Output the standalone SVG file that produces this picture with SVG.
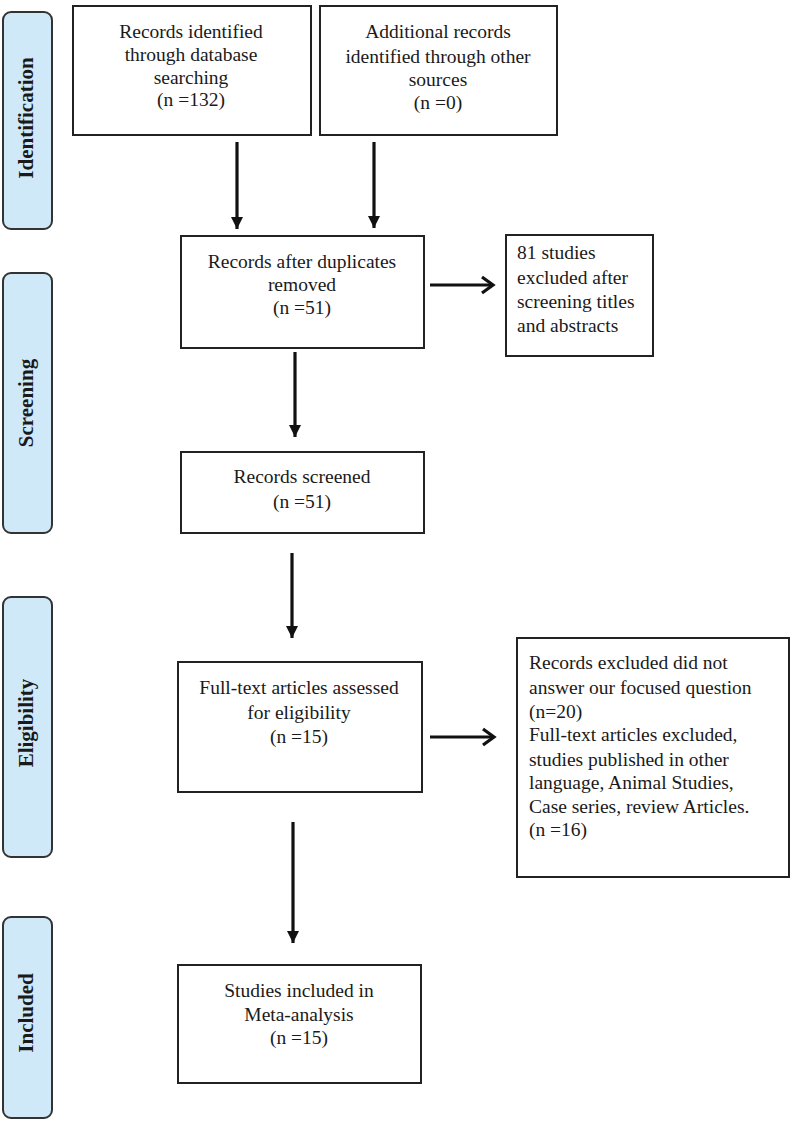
<svg xmlns="http://www.w3.org/2000/svg" width="794" height="1127" viewBox="0 0 794 1127">
<style>
.side{fill:#cfe9f9;stroke:#333;stroke-width:2}
.box{fill:#fff;stroke:#222;stroke-width:2}
.t{font-family:"Liberation Serif","Times New Roman",serif;font-size:19.5px;fill:#1a1a1a}
.c{text-anchor:middle}
.lab{font-family:"Liberation Serif","Times New Roman",serif;font-size:21px;font-weight:bold;fill:#1a1a1a;text-anchor:middle}
.ln{stroke:#111;stroke-width:3.2;fill:none}
.chev{stroke:#111;stroke-width:3.2;fill:none;stroke-linejoin:miter}
</style>
<defs>
<marker id="tri" markerUnits="userSpaceOnUse" markerWidth="14" markerHeight="14" refX="12" refY="7" orient="auto">
<path d="M0,1 L12,7 L0,13 Z" fill="#111"/>
</marker>
</defs>
<rect width="794" height="1127" fill="#fff"/>
<g id="stage-identification">
<rect class="side" x="3" y="12" width="49" height="217" rx="8"/>
<text class="lab" transform="translate(33,118) rotate(-90)">Identification</text>
</g>
<g id="stage-screening">
<rect class="side" x="3" y="273" width="49" height="260" rx="8"/>
<text class="lab" transform="translate(33,403) rotate(-90)">Screening</text>
</g>
<g id="stage-eligibility">
<rect class="side" x="3" y="597" width="49" height="260" rx="8"/>
<text class="lab" transform="translate(33,723) rotate(-90)">Eligibility</text>
</g>
<g id="stage-included">
<rect class="side" x="3" y="917" width="49" height="201" rx="8"/>
<text class="lab" transform="translate(33,1013) rotate(-90)">Included</text>
</g>
<g id="n-database">
<rect class="box" x="73" y="6" width="238" height="129"/>
<text class="t c" x="191" y="38">Records identified</text>
<text class="t c" x="191" y="61">through database</text>
<text class="t c" x="191" y="84">searching</text>
<text class="t c" x="191" y="106">(n =132)</text>
</g>
<g id="n-other">
<rect class="box" x="320" y="6" width="237" height="129"/>
<text class="t c" x="438" y="38">Additional records</text>
<text class="t c" x="438" y="63">identified through other</text>
<text class="t c" x="438" y="86">sources</text>
<text class="t c" x="438" y="109">(n =0)</text>
</g>
<g id="n-dedup">
<rect class="box" x="181" y="236" width="243" height="112"/>
<text class="t c" x="302" y="268">Records after duplicates</text>
<text class="t c" x="302" y="291">removed</text>
<text class="t c" x="302" y="314">(n =51)</text>
</g>
<g id="n-excluded1">
<rect class="box" x="506" y="235" width="147" height="121"/>
<text class="t" x="517" y="259">81 studies</text>
<text class="t" x="517" y="284">excluded after</text>
<text class="t" x="517" y="308">screening titles</text>
<text class="t" x="517" y="332">and abstracts</text>
</g>
<g id="n-screened">
<rect class="box" x="181" y="452" width="243" height="81"/>
<text class="t c" x="302" y="483">Records screened</text>
<text class="t c" x="302" y="508">(n =51)</text>
</g>
<g id="n-fulltext">
<rect class="box" x="178" y="662" width="244" height="130"/>
<text class="t c" x="299" y="694">Full-text  articles assessed</text>
<text class="t c" x="299" y="719">for eligibility</text>
<text class="t c" x="299" y="743">(n =15)</text>
</g>
<g id="n-excluded2">
<rect class="box" x="517" y="638" width="272" height="239"/>
<text class="t" x="529" y="669">Records excluded did not</text>
<text class="t" x="529" y="694">answer our focused question</text>
<text class="t" x="529" y="718">(n=20)</text>
<text class="t" x="529" y="741">Full-text  articles excluded,</text>
<text class="t" x="529" y="766">studies published  in other</text>
<text class="t" x="529" y="789">language, Animal  Studies,</text>
<text class="t" x="529" y="813">Case series, review Articles.</text>
<text class="t" x="529" y="836">(n =16)</text>
</g>
<g id="n-included">
<rect class="box" x="178" y="965" width="243" height="118"/>
<text class="t c" x="299" y="997">Studies included in</text>
<text class="t c" x="299" y="1021">Meta-analysis</text>
<text class="t c" x="299" y="1044">(n =15)</text>
</g>
<g id="connectors">
<line class="ln" x1="237" y1="142" x2="237" y2="229" marker-end="url(#tri)"/>
<line class="ln" x1="374" y1="142" x2="374" y2="228" marker-end="url(#tri)"/>
<line class="ln" x1="295" y1="352" x2="295" y2="437" marker-end="url(#tri)"/>
<line class="ln" x1="292" y1="553" x2="292" y2="638" marker-end="url(#tri)"/>
<line class="ln" x1="293" y1="822" x2="293" y2="943" marker-end="url(#tri)"/>
<line class="ln" x1="430" y1="285" x2="493" y2="285"/>
<path class="chev" d="M482,277 L493,285 L482,293"/>
<line class="ln" x1="430" y1="737" x2="494" y2="737"/>
<path class="chev" d="M483,729 L494,737 L483,745"/>
</g>
</svg>
